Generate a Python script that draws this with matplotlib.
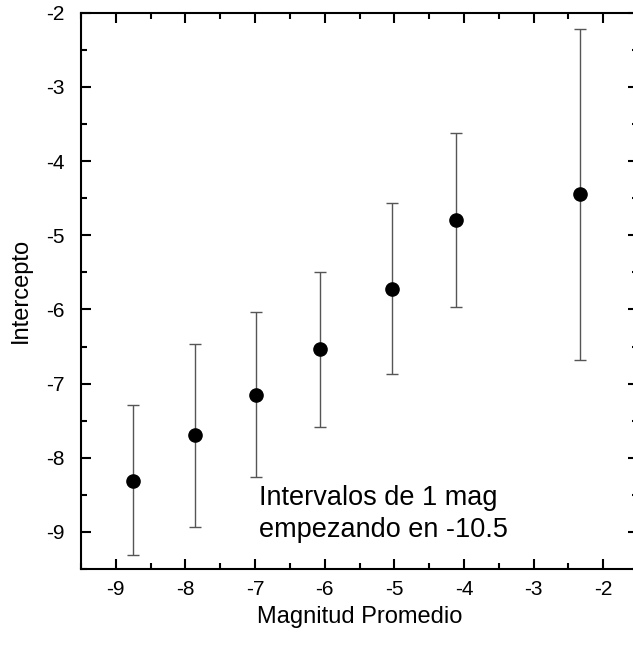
import numpy as np
import matplotlib
matplotlib.use("Agg")
import matplotlib.pyplot as plt
from matplotlib.ticker import MultipleLocator

plt.rcParams['font.family'] = ['Liberation Sans', 'DejaVu Sans']
plt.rcParams['axes.unicode_minus'] = False

# magnitud promedio de cada intervalo
mag = [-8.75, -7.86, -6.98, -6.07, -5.04, -4.11, -2.34]
# intercepto y extremos de la barra de error
intercepto = [-8.31, -7.70, -7.15, -6.54, -5.72, -4.79, -4.45]
err_sup = [-7.29, -6.46, -6.04, -5.50, -4.57, -3.62, -2.22]
err_inf = [-9.31, -8.94, -8.26, -7.59, -6.87, -5.97, -6.68]

x_ticks = [-9, -8, -7, -6, -5, -4, -3, -2]
y_ticks = [-9, -8, -7, -6, -5, -4, -3, -2]


def main():
    fig = plt.figure(figsize=(6.33, 6.49), dpi=100)
    ax = fig.add_axes([0.128, 0.1233, 0.88, 0.857])

    y = np.array(intercepto)
    yerr = [y - np.array(err_inf), np.array(err_sup) - y]
    ax.errorbar(mag, y, yerr=yerr, fmt='o', color='black', ms=9.5,
                ecolor='#555555', elinewidth=1.0, capsize=4.5, capthick=1.0)

    ax.set_xlim(-9.5, -1.5)
    ax.set_ylim(-9.5, -2)
    ax.set_xticks(x_ticks)
    ax.set_yticks(y_ticks)
    ax.xaxis.set_minor_locator(MultipleLocator(0.5))
    ax.yaxis.set_minor_locator(MultipleLocator(0.5))
    ax.tick_params(which='both', direction='in', top=True, right=True,
                   width=1.5, labelsize=15)
    ax.tick_params(axis='x', pad=8)
    ax.tick_params(axis='y', pad=12)
    ax.tick_params(which='major', length=7)
    ax.tick_params(which='minor', length=4)
    for s in ax.spines.values():
        s.set_linewidth(1.5)

    ax.set_xlabel('Magnitud Promedio', fontsize=17, labelpad=5)
    ax.set_ylabel('Intercepto', fontsize=17, labelpad=10)

    ax.text(-6.94, -8.76, 'Intervalos de 1 mag\nempezando en -10.5',
            fontsize=19.5, va='center', ha='left', linespacing=1.3)

    fig.savefig('out.png', dpi=100)


if __name__ == "__main__":
    main()
